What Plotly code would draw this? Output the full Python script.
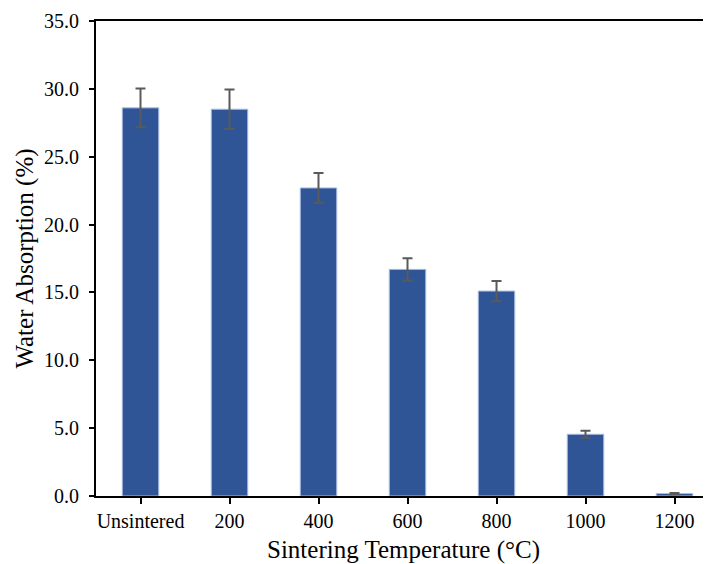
import plotly.graph_objects as go

categories = ["Unsintered", "200", "400", "600", "800", "1000", "1200"]
water_absorption = [28.6, 28.5, 22.7, 16.7, 15.1, 4.55, 0.18]
error_values = [1.43, 1.45, 1.1, 0.82, 0.75, 0.25, 0.05]
y_ticks = [0, 5, 10, 15, 20, 25, 30, 35]

fig = go.Figure()
fig.add_trace(go.Bar(
    x=list(range(len(categories))),
    y=water_absorption,
    width=0.41,
    marker=dict(color="#2F5597", line=dict(color="#A9BDE0", width=1)),
    error_y=dict(type="data", array=error_values, visible=True,
                 color="#5A5A5A", thickness=2, width=5),
))

font_family = "Liberation Serif, Times New Roman, serif"
fig.update_layout(
    width=703, height=556,
    margin=dict(l=88, r=0, t=13, b=68),
    paper_bgcolor="white", plot_bgcolor="white",
    showlegend=False,
    font=dict(family=font_family, color="black", size=20),
    xaxis=dict(
        automargin=False,
        tickmode="array",
        tickvals=list(range(len(categories))),
        ticktext=categories,
        range=[-0.5, 6.41],
        showline=True, linecolor="black", linewidth=2,
        mirror=True,
        ticks="outside", ticklen=6, tickwidth=2, tickcolor="black",
        tickson="boundaries",
        showgrid=False, zeroline=False,
        tickfont=dict(size=20, family=font_family),
        title=dict(text="Sintering Temperature (°C)", font=dict(size=25, family=font_family), standoff=10),
    ),
    yaxis=dict(
        automargin=False,
        range=[0, 35],
        tickmode="array",
        tickvals=y_ticks,
        ticktext=[f"{v:.1f}" for v in y_ticks],
        showline=True, linecolor="black", linewidth=2,
        ticks="outside", ticklen=5, tickwidth=2, tickcolor="black",
        showgrid=False, zeroline=False,
        tickfont=dict(size=20, family=font_family),
        ticklabelstandoff=6,
        title=dict(text="Water Absorption (%)", font=dict(size=25, family=font_family), standoff=3),
    ),
)

fig.write_html("out.html")
